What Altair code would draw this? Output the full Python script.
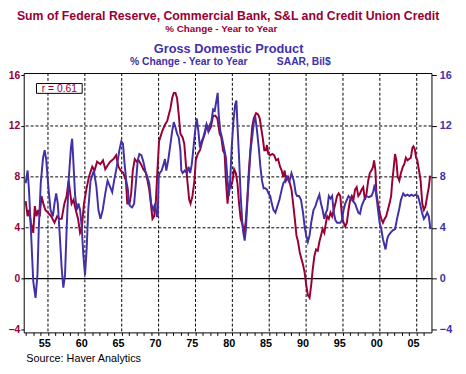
import altair as alt
import pandas as pd

# ---------------- data ----------------
gdp_year = [
    1952.97, 1953.24, 1953.42, 1953.68, 1954.00, 1954.31, 1954.57, 1954.75, 1955.02, 1955.33,
    1955.55, 1955.77, 1956.08, 1956.35, 1956.66, 1956.88, 1957.11, 1957.33, 1957.60, 1957.86,
    1958.08, 1958.31, 1958.53, 1958.80, 1959.11, 1959.28, 1959.46, 1959.68, 1959.91, 1960.13,
    1960.35, 1960.57, 1960.80, 1961.02, 1961.24, 1961.46, 1961.77, 1962.22, 1962.57, 1962.84,
    1963.11, 1963.42, 1963.77, 1964.08, 1964.44, 1964.71, 1964.97, 1965.33, 1965.68, 1965.95,
    1966.17, 1966.39, 1966.61, 1966.84, 1966.97, 1967.15, 1967.41, 1967.68, 1967.95, 1968.17,
    1968.39, 1968.66, 1968.93, 1969.19, 1969.46, 1969.73, 1969.99, 1970.26, 1970.53, 1970.75,
    1970.88, 1971.01, 1971.15, 1971.41, 1971.68, 1971.86, 1972.04, 1972.30, 1972.61, 1972.84,
    1973.06, 1973.28, 1973.50, 1973.73, 1973.95, 1974.08, 1974.26, 1974.53, 1974.84, 1975.06,
    1975.28, 1975.50, 1975.73, 1975.95, 1976.17, 1976.39, 1976.61, 1976.84, 1977.06, 1977.28,
    1977.50, 1977.73, 1977.95, 1978.17, 1978.39, 1978.61, 1978.84, 1979.01, 1979.15, 1979.37,
    1979.59, 1979.86, 1980.13, 1980.35, 1980.53, 1980.71, 1980.89, 1981.15, 1981.38, 1981.55,
    1981.69, 1981.91, 1982.13, 1982.35, 1982.49, 1982.67, 1982.84, 1983.02, 1983.24, 1983.47,
    1983.69, 1983.91, 1984.13, 1984.35, 1984.58, 1984.80, 1985.02, 1985.24, 1985.47, 1985.69,
    1985.91, 1986.13, 1986.35, 1986.58, 1986.84, 1987.11, 1987.38, 1987.69, 1987.91, 1988.13,
    1988.35, 1988.71, 1989.02, 1989.33, 1989.60, 1989.78, 1990.04, 1990.31, 1990.58, 1990.80,
    1991.02, 1991.24, 1991.47, 1991.69, 1992.00, 1992.27, 1992.53, 1992.80, 1993.02, 1993.24,
    1993.47, 1993.69, 1993.86, 1994.08, 1994.31, 1994.53, 1994.75, 1994.97, 1995.20, 1995.42,
    1995.64, 1995.86, 1996.08, 1996.31, 1996.75, 1997.20, 1997.64, 1998.08, 1998.31, 1998.53,
    1998.88, 1999.20, 1999.51, 1999.86, 2000.08, 2000.31, 2000.53, 2000.75, 2000.97, 2001.20,
    2001.42, 2001.64, 2001.77, 2001.99, 2002.17, 2002.44, 2002.75, 2003.06, 2003.33, 2003.60,
    2003.86, 2004.17, 2004.44, 2004.75, 2005.02, 2005.28, 2005.55, 2005.86, 2006.17, 2006.44,
    2006.71, 2006.97, 2007.20, 2007.42, 2007.64, 2007.86,
]
gdp_value = [
    7.5, 8.5, 7.0, 3.9, -0.2, -1.5, 0.3, 3.9, 7.5, 9.5,
    10.1, 9.3, 7.0, 5.4, 4.9, 5.9, 6.7, 5.9, 3.4, 0.8,
    -0.7, 0.3, 3.9, 7.7, 10.3, 11.0, 9.0, 6.5, 5.4, 5.9,
    5.4, 4.1, 1.8, 0.3, 2.3, 5.4, 7.7, 8.5, 7.2, 5.4,
    4.7, 5.4, 6.7, 7.7, 7.2, 6.8, 7.7, 8.8, 10.1, 10.8,
    10.6, 9.0, 7.7, 7.0, 5.9, 5.7, 5.6, 5.9, 7.7, 9.3,
    9.8, 9.7, 9.2, 8.5, 8.0, 7.5, 5.9, 5.4, 5.9, 4.9,
    4.9, 8.0, 8.3, 8.5, 9.0, 9.4, 8.5, 9.3, 10.6, 11.6,
    12.3, 11.9, 11.4, 11.1, 10.1, 8.5, 8.3, 8.5, 8.3, 8.8,
    8.3, 9.0, 10.3, 11.6, 12.6, 11.6, 10.3, 10.8, 11.1, 11.6,
    12.1, 11.6, 12.1, 12.4, 13.3, 13.2, 14.0, 14.6, 12.9, 11.6,
    11.1, 10.3, 9.5, 7.7, 6.5, 7.7, 10.1, 12.4, 13.7, 14.0,
    12.1, 9.5, 6.5, 4.4, 3.6, 3.0, 3.9, 5.9, 8.0, 10.1,
    11.1, 12.3, 12.6, 11.6, 10.3, 8.8, 7.7, 7.1, 7.1, 7.0,
    6.7, 6.5, 5.9, 5.4, 5.2, 5.7, 6.2, 7.0, 7.5, 7.7,
    8.0, 7.6, 8.3, 7.7, 6.7, 6.5, 6.5, 6.2, 5.2, 4.1,
    3.4, 2.9, 3.4, 4.4, 5.4, 5.7, 6.2, 6.6, 5.9, 5.4,
    4.7, 5.2, 5.4, 6.5, 6.3, 6.5, 5.2, 4.6, 4.4, 4.4,
    4.4, 4.6, 5.4, 5.9, 6.5, 6.2, 5.9, 5.2, 5.1, 5.7,
    6.2, 6.5, 6.4, 6.5, 6.8, 7.4, 6.5, 5.4, 4.4, 3.9,
    3.1, 2.6, 2.3, 3.1, 3.4, 3.6, 3.8, 3.9, 4.7, 5.4,
    6.2, 6.7, 6.5, 6.6, 6.5, 6.6, 6.5, 6.6, 6.5, 5.9,
    5.2, 4.7, 4.9, 5.2, 4.9, 3.9,
]
credit_year = [
    1952.97, 1953.24, 1953.42, 1953.68, 1954.00, 1954.22, 1954.44, 1954.66, 1954.88, 1955.11,
    1955.37, 1955.64, 1956.00, 1956.44, 1956.88, 1957.24, 1957.55, 1957.86, 1958.22, 1958.53,
    1958.80, 1959.02, 1959.20, 1959.46, 1959.77, 1960.08, 1960.35, 1960.57, 1960.88, 1961.20,
    1961.55, 1962.00, 1962.31, 1962.66, 1963.11, 1963.46, 1963.77, 1964.08, 1964.44, 1964.88,
    1965.24, 1965.55, 1965.86, 1966.22, 1966.57, 1966.75, 1967.06, 1967.28, 1967.50, 1967.77,
    1968.04, 1968.30, 1968.61, 1968.93, 1969.28, 1969.50, 1969.73, 1969.95, 1970.17, 1970.39,
    1970.61, 1970.84, 1971.06, 1971.28, 1971.50, 1971.86, 1972.17, 1972.39, 1972.61, 1972.84,
    1973.06, 1973.28, 1973.50, 1973.73, 1973.95, 1974.26, 1974.48, 1974.70, 1974.93, 1975.15,
    1975.33, 1975.59, 1975.86, 1976.04, 1976.30, 1976.61, 1976.93, 1977.28, 1977.50, 1977.81,
    1978.08, 1978.39, 1978.70, 1978.97, 1979.28, 1979.50, 1979.73, 1979.95, 1980.13, 1980.35,
    1980.58, 1980.80, 1981.02, 1981.24, 1981.47, 1981.69, 1981.91, 1982.13, 1982.35, 1982.58,
    1982.80, 1983.02, 1983.24, 1983.47, 1983.69, 1983.91, 1984.22, 1984.49, 1984.71, 1984.89,
    1985.11, 1985.33, 1985.55, 1985.69, 1985.87, 1986.13, 1986.40, 1986.67, 1986.93, 1987.20,
    1987.47, 1987.69, 1987.91, 1988.09, 1988.27, 1988.53, 1988.80, 1989.02, 1989.24, 1989.47,
    1989.69, 1989.91, 1990.13, 1990.35, 1990.58, 1990.80, 1991.02, 1991.24, 1991.47, 1991.69,
    1991.91, 1992.13, 1992.35, 1992.58, 1992.80, 1993.02, 1993.24, 1993.47, 1993.69, 1993.86,
    1994.08, 1994.31, 1994.53, 1994.75, 1994.97, 1995.20, 1995.42, 1995.64, 1995.86, 1996.08,
    1996.31, 1996.53, 1996.75, 1996.97, 1997.20, 1997.42, 1997.64, 1997.86, 1998.08, 1998.31,
    1998.53, 1998.75, 1998.97, 1999.20, 1999.42, 1999.64, 1999.86, 2000.08, 2000.22, 2000.40,
    2000.53, 2000.75, 2000.97, 2001.20, 2001.42, 2001.64, 2001.86, 2002.08, 2002.31, 2002.53,
    2002.66, 2002.84, 2003.06, 2003.24, 2003.42, 2003.64, 2003.86, 2004.13, 2004.31, 2004.53,
    2004.75, 2004.97, 2005.20, 2005.42, 2005.55, 2005.73, 2005.91, 2006.08, 2006.31, 2006.53,
    2006.75, 2006.97, 2007.20, 2007.42, 2007.64, 2007.82,
]
credit_value = [
    6.1, 4.9, 5.4, 4.4, 3.6, 5.7, 4.9, 5.4, 4.9, 6.5,
    5.9, 5.4, 5.2, 4.9, 4.4, 4.9, 4.7, 4.7, 5.9, 6.5,
    7.7, 6.7, 5.9, 6.2, 5.4, 4.7, 3.6, 3.9, 5.9, 7.0,
    8.0, 8.8, 8.5, 9.2, 9.0, 9.3, 8.6, 8.9, 9.2, 9.4,
    9.7, 8.8, 8.5, 8.3, 7.7, 5.9, 5.9, 6.7, 8.5, 9.4,
    9.2, 9.3, 9.0, 8.6, 8.3, 7.7, 7.0, 5.9, 4.7, 4.9,
    5.9, 8.5, 10.8, 11.2, 11.6, 12.1, 12.4, 12.9, 13.4, 14.2,
    14.6, 14.6, 14.2, 12.9, 11.4, 11.1, 10.6, 9.0, 7.5, 6.2,
    5.9, 6.5, 7.7, 9.3, 9.8, 10.1, 10.8, 11.4, 12.1, 11.6,
    11.9, 12.8, 12.8, 12.6, 11.4, 11.1, 10.1, 9.8, 7.7, 5.9,
    7.5, 7.2, 7.7, 8.6, 8.3, 7.5, 5.9, 4.7, 4.3, 3.6,
    4.4, 6.2, 8.5, 10.3, 11.9, 12.6, 13.0, 12.9, 12.6, 11.9,
    11.1, 10.1, 10.1, 10.5, 9.8, 9.7, 9.8, 9.7, 9.3, 9.4,
    8.8, 8.5, 8.0, 8.5, 7.7, 8.0, 7.5, 7.0, 5.9, 4.7,
    3.4, 2.9, 2.1, 1.6, 1.1, 0.5, -0.5, -1.3, -1.5, -0.5,
    0.8, 1.8, 2.3, 2.2, 2.9, 3.4, 3.9, 3.6, 4.4, 4.9,
    4.7, 5.2, 4.9, 5.4, 5.9, 6.5, 6.7, 6.5, 4.9, 4.4,
    4.1, 4.4, 5.4, 6.2, 6.5, 6.2, 7.0, 7.2, 6.5, 6.7,
    7.0, 7.2, 6.2, 6.7, 7.7, 8.3, 8.5, 8.8, 9.3, 8.5,
    6.7, 5.9, 5.2, 4.7, 4.4, 4.7, 4.9, 5.4, 5.9, 6.5,
    7.5, 8.5, 9.8, 9.3, 8.0, 7.7, 8.3, 8.8, 9.0, 9.5,
    9.3, 9.4, 9.5, 10.3, 10.4, 10.2, 9.5, 9.3, 8.5, 7.7,
    5.9, 5.4, 5.7, 6.5, 7.2, 8.1,
]

y_ticks = [-4, 0, 4, 8, 12, 16]
y_grid = [4, 8, 12]
y_zero = [0]
x_grid = [1956, 1961, 1966, 1971, 1976, 1981, 1986, 1991, 1996, 2001, 2006]
x_year_ticks = [1953, 1954, 1955, 1956, 1957, 1958, 1959, 1960, 1961, 1962, 1963, 1964,
                1965, 1966, 1967, 1968, 1969, 1970, 1971, 1972, 1973, 1974, 1975, 1976,
                1977, 1978, 1979, 1980, 1981, 1982, 1983, 1984, 1985, 1986, 1987, 1988,
                1989, 1990, 1991, 1992, 1993, 1994, 1995, 1996, 1997, 1998, 1999, 2000,
                2001, 2002, 2003, 2004, 2005, 2006, 2007]

title_credit = "Sum of Federal Reserve, Commercial Bank, S&L and Credit Union Credit"
sub_credit = "% Change - Year to Year"
title_gdp = "Gross Domestic Product"
sub_gdp_a = "% Change - Year to Year"
sub_gdp_b = "SAAR, Bil$"
source_txt = "Source: Haver Analytics"
r_txt = "r = 0.61"

RED = "#990033"
BLUE = "#4131a8"
FONT = "Liberation Sans"

gdp_df = pd.DataFrame({"year": gdp_year, "value": gdp_value})
credit_df = pd.DataFrame({"year": credit_year, "value": credit_value})

xs = alt.Scale(domain=[1952.71, 2008.0], nice=False, zero=False)
ys = alt.Scale(domain=[-4.22, 16.16], nice=False, zero=False)

x_axis = alt.Axis(
    orient="bottom", values=x_year_ticks, title=None, grid=False, domain=False,
    tickSize=3, tickColor="black", labelOffset=3.75, labelPadding=2,
    labelExpr="datum.value % 5 == 0 ? slice(toString(datum.value), 2) : ''",
    labelFont=FONT, labelFontSize=11, labelFontWeight="bold", labelColor="black",
    labelOverlap=False, labelFlush=False,
)
left_axis = alt.Axis(
    orient="left", values=y_ticks, title=None, grid=False, domain=False,
    tickSize=3, tickColor="black", labelPadding=1,
    labelFont=FONT, labelFontSize=10.5, labelFontWeight="bold", labelColor=RED,
    labelOverlap=False, labelFlush=False,
)
right_axis = alt.Axis(
    orient="right", values=y_ticks, title=None, grid=False, domain=False,
    tickSize=5, tickColor="black", labelPadding=3,
    labelFont=FONT, labelFontSize=11, labelFontWeight="bold", labelColor=BLUE,
    labelOverlap=False, labelFlush=False,
)

hgrid = alt.Chart(pd.DataFrame({"v": y_grid})).mark_rule(
    color="black", strokeWidth=1, strokeDash=[3, 2]
).encode(y=alt.Y("v:Q", scale=ys, axis=None))
vgrid = alt.Chart(pd.DataFrame({"v": x_grid})).mark_rule(
    color="black", strokeWidth=1, strokeDash=[3, 2]
).encode(x=alt.X("v:Q", scale=xs, axis=None))
zero = alt.Chart(pd.DataFrame({"v": y_zero})).mark_rule(
    color="black", strokeWidth=1.2
).encode(y=alt.Y("v:Q", scale=ys, axis=None))

credit_line = alt.Chart(credit_df).mark_line(color=RED, strokeWidth=2).encode(
    x=alt.X("year:Q", scale=xs, axis=x_axis),
    y=alt.Y("value:Q", scale=ys, axis=left_axis),
)
gdp_line = alt.Chart(gdp_df).mark_line(color=BLUE, strokeWidth=2).encode(
    x=alt.X("year:Q", scale=xs, axis=None),
    y=alt.Y("value:Q", scale=ys, axis=right_axis),
)


def label(txt, x, y, size, color, weight="bold", align="center"):
    return alt.Chart(pd.DataFrame({"t": [txt]})).mark_text(
        font=FONT, fontSize=size, fontWeight=weight, color=color,
        align=align, baseline="alphabetic",
    ).encode(text="t:N", x=alt.value(x), y=alt.value(y))


rbox = alt.Chart(pd.DataFrame({"t": [r_txt]})).mark_rect(
    fill="white", stroke="black", strokeWidth=1
).encode(x=alt.value(13), x2=alt.value(59.5), y=alt.value(10.7), y2=alt.value(20.7))

texts = [
    label(title_credit, 208, -54, 12.5, RED),
    label(sub_credit, 201, -42, 10, RED),
    label(title_gdp, 208.5, -20, 13, BLUE),
    label(sub_gdp_a, 168, -7.7, 10.5, BLUE),
    label(sub_gdp_b, 285, -7.7, 10.5, BLUE),
    label(source_txt, 2.7, 294.5, 11, "black", weight="normal", align="left"),
    label(r_txt, 36.3, 19.5, 10.5, RED, weight="normal"),
]

chart = alt.layer(
    hgrid, vgrid, zero, credit_line, gdp_line, rbox, *texts
).resolve_axis(x="independent", y="independent").properties(
    width=415, height=264,
    autosize=alt.AutoSizeParams(type="none"),
    padding={"left": 16, "top": 63, "right": 27, "bottom": 31},
    background="white",
).configure_view(stroke="black", strokeWidth=1)

chart.save("out.html", embed_options={"renderer": "svg", "actions": False})
